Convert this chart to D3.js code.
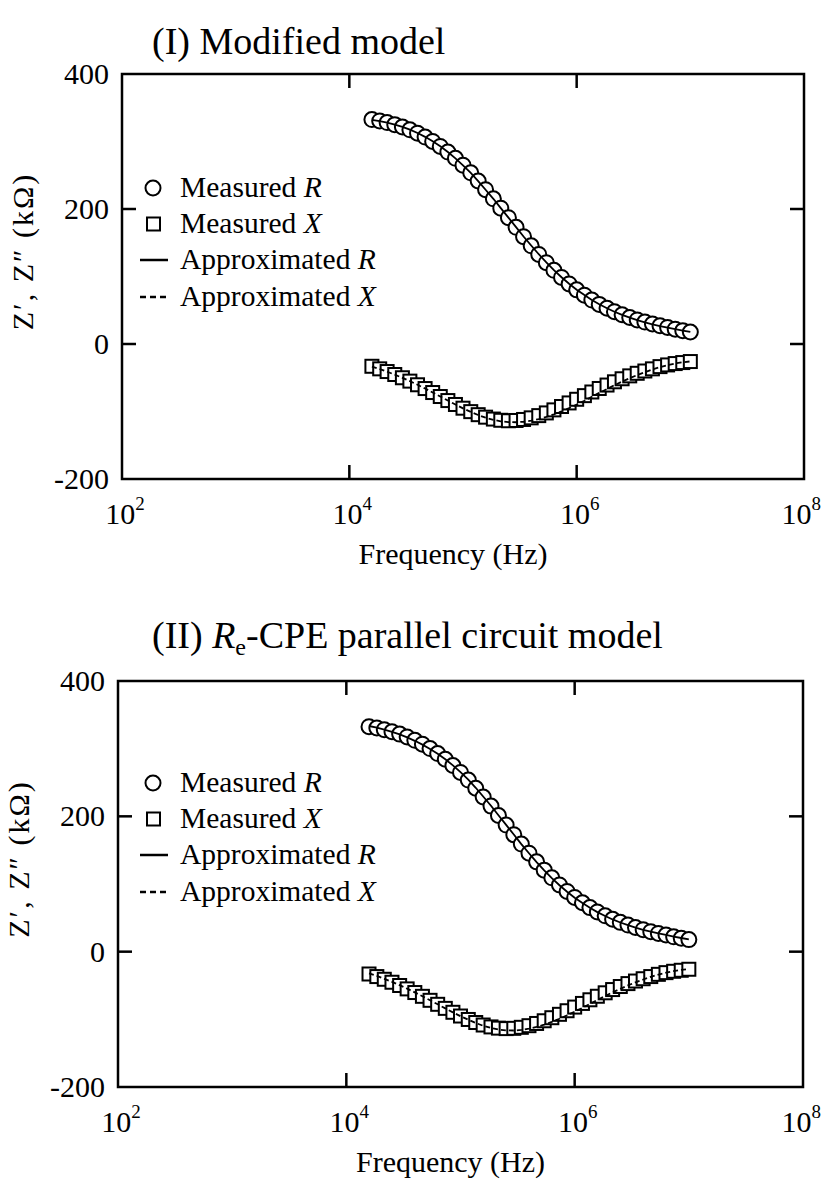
<!DOCTYPE html><html><head><meta charset="utf-8">
<script src="https://cdn.jsdelivr.net/npm/d3@7"></script>
<style>body{margin:0;background:#fff} text{font-family:"Liberation Serif","Times New Roman",serif;fill:#000}</style>
</head><body><svg id="c" width="822" height="1180"></svg><script>
// ---- data ----
const frequency=[15800,18500,21500,25100,29300,34100,39800,46400,54100,63100,73600,85800,
 100000,117000,136000,158000,185000,215000,251000,293000,341000,398000,464000,541000,631000,736000,858000,
 1000000,1170000,1360000,1580000,1850000,2150000,2510000,2930000,3410000,3980000,4640000,5410000,6310000,7360000,8580000,10000000];
const measuredR=[332.5,330.5,328.0,325.0,321.5,317.3,312.3,306.6,300.1,292.7,284.4,275.1,
 264.9,253.6,241.5,228.6,215.1,201.2,187.1,172.9,159.0,145.5,132.7,120.5,109.1,98.6,89.0,
 80.2,72.3,65.1,58.7,53.0,47.9,43.3,39.3,35.7,32.5,29.6,27.0,24.6,22.0,19.8,17.8];
const measuredX=[-33.0,-36.8,-40.8,-45.2,-50.0,-55.0,-60.4,-66.0,-71.9,-77.8,-83.8,-89.6,
 -95.1,-100.2,-104.7,-108.4,-111.2,-113.0,-113.7,-113.3,-111.8,-109.4,-106.1,-102.1,-97.6,-92.6,-87.3,
 -81.9,-76.5,-71.1,-65.9,-60.8,-56.0,-51.5,-47.2,-43.4,-40.0,-36.8,-33.5,-31.0,-29.0,-27.5,-26.0];
const approxR1=[332.0,330.2,327.8,325.0,321.7,317.6,312.6,306.9,300.3,292.8,284.4,275.0,
 264.7,253.4,241.3,228.5,215.1,201.3,187.3,173.2,159.3,145.9,133.0,120.8,109.4,98.9,89.3,
 80.5,72.5,65.3,58.8,53.0,47.8,43.1,39.0,35.3,32.0,29.1,26.5,24.2,21.9,19.8,17.9];
const approxX1=[-33.5,-37.2,-41.1,-45.4,-50.1,-55.1,-60.4,-66.0,-71.8,-77.7,-83.8,-89.7,
 -95.3,-100.5,-105.2,-109.2,-112.3,-114.5,-115.6,-115.9,-115.2,-113.6,-111.2,-108.0,-104.2,-99.8,-94.9,
 -89.6,-84.0,-78.2,-72.4,-66.6,-61.0,-55.7,-50.7,-46.0,-41.7,-37.8,-34.3,-31.3,-28.8,-27.0,-25.8];
const approxR2=[333.5,331.0,328.1,324.8,321.0,316.6,311.6,306.0,299.6,292.4,284.3,275.3,
 265.3,254.2,242.2,229.3,215.7,201.6,187.4,173.1,159.0,145.4,132.4,120.1,108.7,98.2,88.6,
 79.8,71.9,64.8,58.4,52.7,47.6,43.1,39.1,35.5,32.3,29.5,27.0,24.7,22.4,20.2,18.1];
const approxX2=[-32.0,-35.9,-40.1,-44.6,-49.5,-54.7,-60.2,-65.9,-71.8,-77.8,-83.8,-89.7,
 -95.3,-100.6,-105.4,-109.5,-112.8,-115.1,-116.3,-116.5,-115.7,-113.9,-111.2,-107.8,-103.7,-99.1,-94.0,
 -88.6,-83.0,-77.2,-71.4,-65.7,-60.1,-54.9,-49.9,-45.3,-41.1,-37.3,-33.9,-31.0,-28.6,-26.8,-25.6];
const xTicks=[1e2,1e4,1e6,1e8];
const xTickExp=["2","4","6","8"];
const yTicks=[-200,0,200,400];
const legendLabels=[["Measured ","R"],["Measured ","X"],["Approximated ","R"],["Approximated ","X"]];

const svg=d3.select("#c");
function panel(o){
 const x=d3.scaleLog().domain([1e2,1e8]).range([o.l,o.r]);
 const y=d3.scaleLinear().domain([-200,400]).range([o.b,o.t]);
 const g=svg.append("g");
 const T=14;
 const tk=g.append("g").attr("stroke","#000").attr("stroke-width",2.5);
 xTicks.slice(1,3).forEach(v=>{
  tk.append("line").attr("x1",x(v)).attr("x2",x(v)).attr("y1",o.t).attr("y2",o.t+T);
  tk.append("line").attr("x1",x(v)).attr("x2",x(v)).attr("y1",o.b).attr("y2",o.b-T);
 });
 yTicks.slice(1,3).forEach(v=>{
  tk.append("line").attr("x1",o.l).attr("x2",o.l+T).attr("y1",y(v)).attr("y2",y(v));
  tk.append("line").attr("x1",o.r).attr("x2",o.r-T).attr("y1",y(v)).attr("y2",y(v));
 });
 yTicks.forEach(v=>g.append("text").attr("x",o.l-13).attr("y",y(v)+10).attr("text-anchor","end").attr("font-size",30).text(v));
 xTicks.forEach((v,i)=>{
  const last=i===xTicks.length-1;
  const t=g.append("text").attr("x",last?821:x(v)+3).attr("y",o.b+45)
   .attr("text-anchor",last?"end":"middle").attr("font-size",30);
  t.append("tspan").text("10");
  t.append("tspan").attr("font-size",19).attr("dy",-14).text(xTickExp[i]);
 });
 g.append("text").attr("x",(o.l+o.r)/2-10).attr("y",o.b+85).attr("text-anchor","middle").attr("font-size",30).text("Frequency (Hz)");
 const yl=g.append("text").attr("transform",`translate(${o.l-89},${(o.t+o.b)/2-25}) rotate(-90)`)
  .attr("text-anchor","middle").attr("font-size",30).attr("letter-spacing",2);
 yl.text("Z′, Z″  (kΩ)");
 g.append("g").selectAll("circle").data(measuredR).join("circle")
  .attr("cx",(d,i)=>x(frequency[i])).attr("cy",d=>y(d)).attr("r",7.5)
  .attr("fill","#fff").attr("stroke","#000").attr("stroke-width",2);
 g.append("g").selectAll("rect").data(measuredX).join("rect")
  .attr("x",(d,i)=>x(frequency[i])-6.5).attr("y",d=>y(d)-6.5).attr("width",13).attr("height",13)
  .attr("fill","#fff").attr("stroke","#000").attr("stroke-width",2);
 const ln=d3.line().x((d,i)=>x(frequency[i])).y(d=>y(d));
 g.append("path").attr("d",ln(o.aR)).attr("fill","none").attr("stroke","#000").attr("stroke-width",1.8);
 g.append("path").attr("d",ln(o.aX)).attr("fill","none").attr("stroke","#000").attr("stroke-width",1.8).attr("stroke-dasharray","5,3");
 g.append("rect").attr("x",o.l).attr("y",o.t).attr("width",o.r-o.l).attr("height",o.b-o.t).attr("fill","none").attr("stroke","#000").attr("stroke-width",2.5);
 const lg=g.append("g");
 o.lg.forEach((by,i)=>{
  const cy=by-9;
  if(i===0) lg.append("circle").attr("cx",153).attr("cy",cy).attr("r",7.5).attr("fill","#fff").attr("stroke","#000").attr("stroke-width",2);
  if(i===1) lg.append("rect").attr("x",147).attr("y",cy-6.5).attr("width",13).attr("height",13).attr("fill","#fff").attr("stroke","#000").attr("stroke-width",2);
  if(i===2) lg.append("line").attr("x1",140).attr("x2",168).attr("y1",cy).attr("y2",cy).attr("stroke","#000").attr("stroke-width",2.5);
  if(i===3) lg.append("line").attr("x1",140).attr("x2",168).attr("y1",cy).attr("y2",cy).attr("stroke","#000").attr("stroke-width",2.5).attr("stroke-dasharray","6,4");
  const t=lg.append("text").attr("x",180).attr("y",by).attr("font-size",29.5);
  t.append("tspan").text(legendLabels[i][0]);
  t.append("tspan").attr("font-style","italic").text(legendLabels[i][1]);
 });
 const tt=g.append("text").attr("x",152).attr("y",o.tt).attr("font-size",38);
 o.title(tt);
}
panel({l:122,r:804,t:74,b:479,tt:54,aR:approxR1,aX:approxX1,lg:[197,233,269,306],
 title:t=>t.text("(I) Modified model")});
panel({l:118,r:803,t:681,b:1087,tt:648,aR:approxR2,aX:approxX2,lg:[792,828,864,901],
 title:t=>{t.append("tspan").text("(II) ");t.append("tspan").attr("font-style","italic").text("R");
  t.append("tspan").attr("font-size",24).attr("dy",7).text("e");t.append("tspan").attr("dy",-7).text("-CPE parallel circuit model");}});
</script></body></html>
